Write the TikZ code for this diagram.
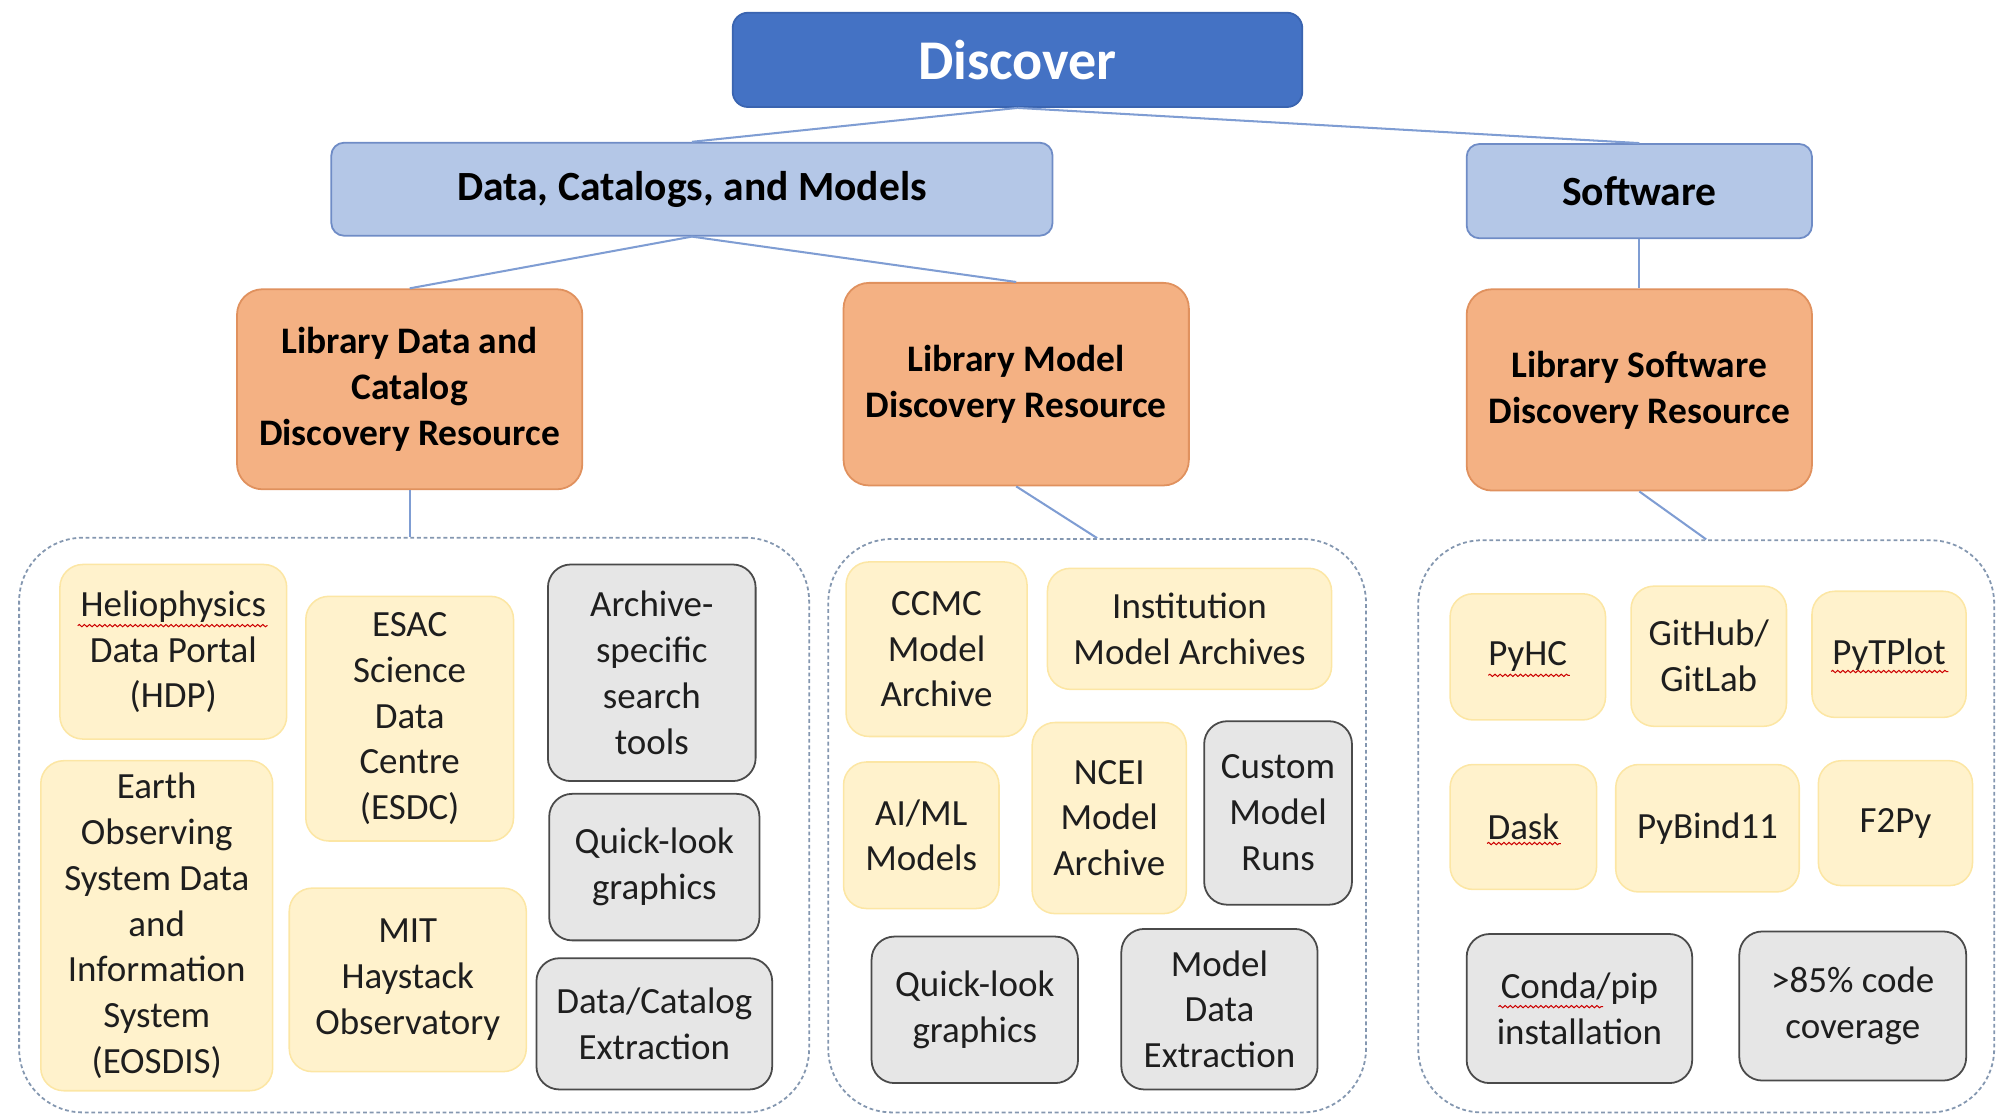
\documentclass[tikz,border=0pt]{standalone}
\usepackage{fontspec}
\setmainfont{Carlito}
\usetikzlibrary{decorations.pathmorphing}
\definecolor{topfill}{HTML}{4472C4}
\definecolor{topborder}{HTML}{3A64B0}
\definecolor{bfill}{HTML}{B4C7E7}
\definecolor{bborder}{HTML}{6F8CC6}
\definecolor{ofill}{HTML}{F4B183}
\definecolor{oborder}{HTML}{E0915E}
\definecolor{yfill}{HTML}{FFF2CC}
\definecolor{yborder}{HTML}{FCE6A4}
\definecolor{gfill}{HTML}{E6E6E6}
\definecolor{gborder}{HTML}{4A4A4A}
\definecolor{contc}{HTML}{8497B0}
\definecolor{connc}{HTML}{7F9DD3}
\definecolor{txtc}{HTML}{1E1E1E}
\newcommand{\xitemfont}{\fontsize{14.5}{18}\selectfont}
\newcommand{\xhdtwofont}{\fontsize{14.7}{18}\selectfont\bfseries}
\newcommand{\xhdonefont}{\fontsize{16.3}{19}\selectfont\bfseries}
\newcommand{\xtopfont}{\fontsize{22}{26}\selectfont\bfseries}
% box helper: style, name, x1, y1, x2, y2, text  (coordinates in reference pixels)
\newcommand{\bx}[7]{\node[#1, minimum width={(#5-#3)*0.5pt}, minimum height={(#6-#4)*0.5pt}] (#2) at ({(#3+#5)/2},{(#4+#6)/2}) {#7};}
\tikzset{
  ybox/.style={draw=yborder, fill=yfill, rounded corners=9pt, line width=0.6pt, inner sep=0pt, align=center, font=\xitemfont, text=txtc},
  gbox/.style={draw=gborder, fill=gfill, rounded corners=9pt, line width=0.7pt, inner sep=0pt, align=center, font=\xitemfont, text=txtc},
  obox/.style={draw=oborder, fill=ofill, rounded corners=10pt, line width=0.7pt, inner sep=0pt, align=center, font=\xhdtwofont},
  bbox/.style={draw=bborder, fill=bfill, rounded corners=5pt, line width=0.7pt, inner sep=0pt, align=center, font=\xhdonefont},
  topbox/.style={draw=topborder, fill=topfill, rounded corners=6pt, line width=0.7pt, inner sep=0pt, text=white, font=\xtopfont},
  cont/.style={draw=contc, dash pattern=on 1.5pt off 1.1pt, rounded corners=25pt, line width=0.7pt, inner sep=0pt},
  conn/.style={draw=connc, line width=0.8pt},
  squig/.style={draw=red!80!black, line width=0.4pt, decorate, decoration={snake, segment length=2pt, amplitude=0.45pt}},
}
\begin{document}
\begin{tikzpicture}[x=0.5pt, y=-0.5pt]
\useasboundingbox (0,0) rectangle (1568,876);
% top levels
\bx{topbox}{disc}{575}{10}{1022}{84}{Discover}
\bx{bbox}{dcm}{260}{112}{826}{185}{Data, Catalogs, and Models}
\bx{bbox}{sw}{1151}{113}{1422}{187}{Software}
\bx{obox}{ldata}{186}{227}{457}{384}{Library Data and\\Catalog\\Discovery Resource}
\bx{obox}{lmodel}{662}{222}{933}{381}{Library Model\\Discovery Resource}
\bx{obox}{lsoft}{1151}{227}{1422}{385}{Library Software\\Discovery Resource}
% containers
\bx{cont}{c1}{15}{422}{635}{873}{}
\bx{cont}{c2}{650}{423}{1072}{873}{}
\bx{cont}{c3}{1113}{424}{1565}{873}{}
% container 1 items
\bx{ybox}{hdp}{47}{443}{225}{580}{Heliophysics\\Data Portal\\(HDP)}
\bx{ybox}{esdc}{240}{468}{403}{660}{ESAC\\Science\\Data\\Centre\\(ESDC)}
\bx{gbox}{arch}{430}{443}{593}{613}{Archive-\\specific\\search\\tools}
\bx{ybox}{eos}{32}{597}{214}{856}{Earth\\Observing\\System Data\\and\\Information\\System\\(EOSDIS)}
\bx{ybox}{mit}{227}{697}{413}{841}{MIT\\Haystack\\Observatory}
\bx{gbox}{ql1}{431}{623}{596}{738}{Quick-look\\graphics}
\bx{gbox}{dce}{421}{752}{606}{855}{Data/Catalog\\Extraction}
% container 2 items
\bx{ybox}{ccmc}{664}{441}{806}{578}{CCMC\\Model\\Archive}
\bx{ybox}{inst}{822}{446}{1045}{541}{Institution\\Model Archives}
\bx{ybox}{aiml}{662}{598}{784}{713}{AI/ML\\Models}
\bx{ybox}{ncei}{810}{567}{931}{717}{NCEI\\Model\\Archive}
\bx{gbox}{cmr}{945}{566}{1061}{710}{Custom\\Model\\Runs}
\bx{gbox}{ql2}{684}{735}{846}{850}{Quick-look\\graphics}
\bx{gbox}{mde}{880}{729}{1034}{855}{Model\\Data\\Extraction}
% container 3 items
\bx{ybox}{pyhc}{1138}{466}{1260}{565}{PyHC}
\bx{ybox}{git}{1280}{460}{1402}{570}{GitHub/\\GitLab}
\bx{ybox}{pytp}{1422}{464}{1543}{563}{PyTPlot}
\bx{ybox}{dask}{1138}{600}{1253}{698}{Dask}
\bx{ybox}{pyb}{1268}{600}{1412}{700}{PyBind11}
\bx{ybox}{f2py}{1427}{597}{1548}{695}{F2Py}
\bx{gbox}{conda}{1151}{733}{1328}{850}{Conda/pip\\installation}
\bx{gbox}{cov}{1365}{731}{1543}{848}{>85\% code\\coverage}
% connectors
\draw[conn] (disc.south) -- (dcm.north);
\draw[conn] (disc.south) -- (sw.north);
\draw[conn] (dcm.south) -- (ldata.north);
\draw[conn] (dcm.south) -- (lmodel.north);
\draw[conn] (sw.south) -- (lsoft.north);
\draw[conn] (ldata.south) -- (ldata.south |- c1.north);
\draw[conn] (lmodel.south) -- (c2.north);
\draw[conn] (lsoft.south) -- (c3.north);
% spell-check marks
\draw[squig] (61,491) -- (210,491);
\draw[squig] (1168,530) -- (1232,530);
\draw[squig] (1437,527) -- (1529,527);
\draw[squig] (1167,662) -- (1225,662);
\draw[squig] (1176,790) -- (1258,790);
\end{tikzpicture}
\end{document}
